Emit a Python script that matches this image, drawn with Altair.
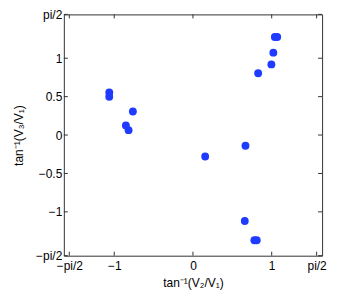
import math
import altair as alt
import pandas as pd

# data
x_vals = [-1.063, -1.063, -0.763, -0.852, -0.818, 1.04, 1.07, 1.021, 0.996, 0.828,
          0.667, 0.155, 0.658, 0.78, 0.81]
y_vals = [0.554, 0.498, 0.307, 0.124, 0.064, 1.277, 1.277, 1.073, 0.92, 0.805,
          -0.14, -0.28, -1.119, -1.370, -1.370]

HP = math.pi / 2
x_ticks = [-HP, -1, 0, 1, HP]
y_ticks = [-HP, -1, -0.5, 0, 0.5, 1, HP]
x_domain = [-1.64, 1.64]
y_domain = [-HP, HP]

W, H = 259, 242
FONT = "Liberation Sans"
BLUE = "#1f3bff"
TICK = "#333333"

pts = pd.DataFrame({"x": x_vals, "y": y_vals})
xt = pd.DataFrame({"v": x_ticks})
yt = pd.DataFrame({"v": y_ticks})

xs = alt.Scale(domain=x_domain, nice=False, zero=False)
ys = alt.Scale(domain=y_domain, nice=False, zero=False)

lab = "datum.value < -1.5 ? '\u2212pi/2' : (datum.value > 1.5 ? 'pi/2' : format(datum.value, '~g'))"

x_axis = alt.Axis(values=x_ticks, labelExpr=lab, ticks=False, domain=False, grid=False,
                  title="tan\u207b\u00b9(V\u2082/V\u2081)", labelPadding=5, titlePadding=6)
y_axis = alt.Axis(values=y_ticks, labelExpr=lab, ticks=False, domain=False, grid=False,
                  title="tan\u207b\u00b9(V\u2083/V\u2081)", labelPadding=2, titlePadding=10)

points = alt.Chart(pts).mark_circle(size=62, opacity=1, color=BLUE).encode(
    x=alt.X("x:Q", scale=xs, axis=x_axis),
    y=alt.Y("y:Q", scale=ys, axis=y_axis),
)

def xtick(y1, y2):
    return alt.Chart(xt).mark_rule(color=TICK, strokeWidth=1).encode(
        x=alt.X("v:Q", scale=xs, axis=x_axis), y=alt.value(y1), y2=alt.value(y2))

def ytick(x1, x2):
    return alt.Chart(yt).mark_rule(color=TICK, strokeWidth=1).encode(
        y=alt.Y("v:Q", scale=ys, axis=y_axis), x=alt.value(x1), x2=alt.value(x2))

chart = alt.layer(
    points, xtick(H, H - 4), xtick(0, 4), ytick(0, 4), ytick(W, W - 4)
).properties(
    width=W, height=H,
    background="white",
    autosize=alt.AutoSizeParams(type="none"),
    padding={"left": 56, "top": 6, "right": 30, "bottom": 36},
).configure_view(
    stroke=TICK, strokeWidth=1
).configure_axis(
    labelFont=FONT, titleFont=FONT, labelFontSize=12, titleFontSize=12,
    labelColor="#000000", titleColor="#000000", titleFontWeight="normal",
)

chart.save("out.html", embed_options={"renderer": "svg", "actions": False})
